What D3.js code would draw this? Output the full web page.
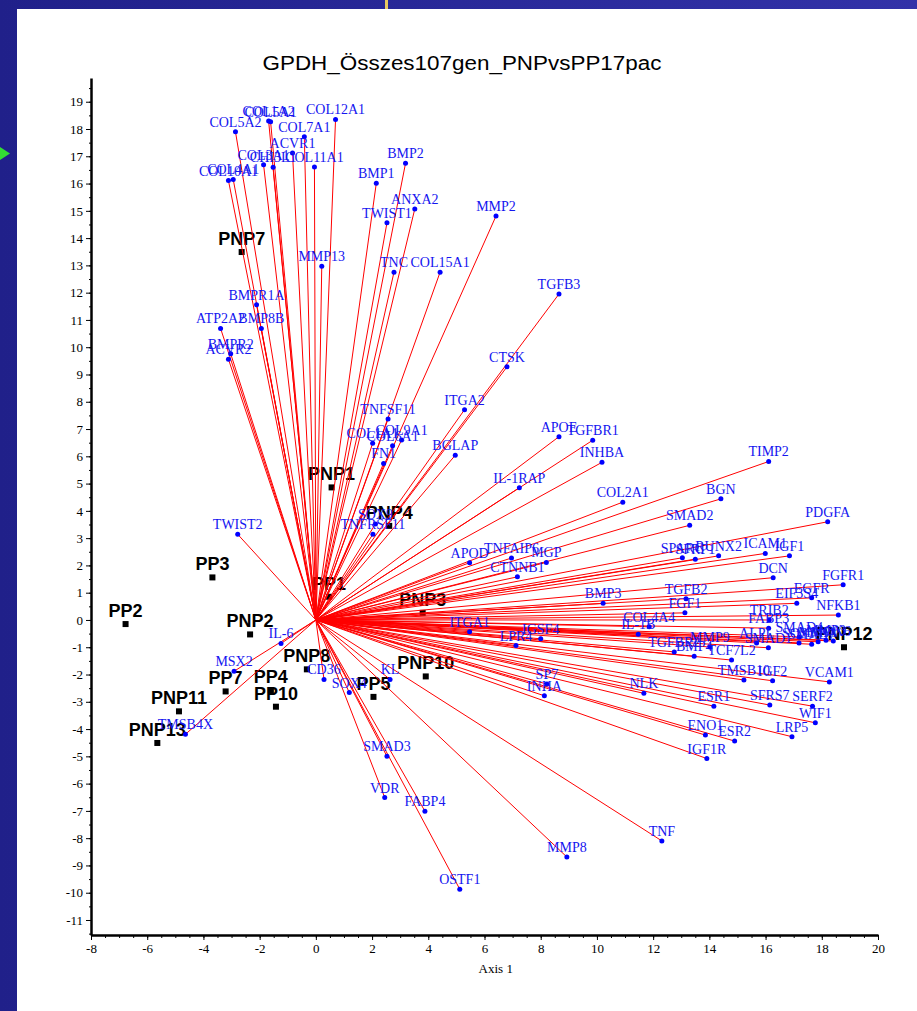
<!DOCTYPE html>
<html>
<head>
<meta charset="utf-8">
<script src="https://cdn.jsdelivr.net/npm/d3@7"></script>
<style>
  body { margin: 0; background: #fff; }
  svg { display: block; }
</style>
</head>
<body>
<svg id="chart" width="917" height="1011"></svg>
<script>
// ── Data ──────────────────────────────────────────────────────────────────
const title = "GPDH_Összes107gen_PNPvsPP17pac";
const xTicks = d3.range(-8, 21, 2);
const yTicks = d3.range(-11, 20, 1);

const genes = [
  "COL12A1", "COL5A2", "COL1A2", "COL5A1", "COL7A1", "ACVR1", "COL3A1", "CHI3L1", "COL11A1", "COL10A1",
  "COL4A1", "BMP2", "BMP1", "ANXA2", "TWIST1", "MMP13", "TNC", "COL15A1", "MMP2", "TGFB3",
  "BMPR1A", "ATP2A2", "BMP8B", "BMPR2", "ACVR2", "CTSK", "TNFSF11", "COL9A1", "COL1A1", "COL6A1",
  "FN1", "ITGA2", "BGLAP", "APOE", "TGFBR1", "INHBA", "IL-1RAP", "SOX9", "TNFRSF11", "APOD",
  "TNFAIP6", "MGP", "CTNNB1", "TIMP2", "COL2A1", "BGN", "SMAD2", "PDGFA", "SPARC", "SFRP1",
  "RUNX2", "ICAM1", "IGF1", "DCN", "FGFR1", "EGFR", "EIF3S4", "NFKB1", "BMP3", "TGFB2",
  "FGF1", "TRIB2", "FABP3", "SMAD4", "ALPL", "SMAD1", "SOST", "SMAD7", "MMP1", "MMP3",
  "SOX6", "COL4A4", "IL-1B", "TGFBR2", "BMP4", "MMP9", "TCF7L2", "TMSB10", "IGF2", "VCAM1",
  "NLK", "ESR1", "SFRS7", "SERF2", "WIF1", "LRP5", "ENO1", "ESR2", "IGF1R", "ITGA1",
  "LPR4", "IGSF4", "SP7", "INHA", "CD36", "SOX4", "KL", "SMAD3", "VDR", "FABP4",
  "OSTF1", "MMP8", "TNF", "IL-6", "MSX2", "TMSB4X", "TWIST2"
];
const geneX = [
  0.70, -2.86, -1.68, -1.61, -0.41, -0.83, -1.86, -1.52, -0.05, -3.11,
  -2.94, 3.19, 2.15, 3.52, 2.53, 0.21, 2.78, 4.42, 6.41, 8.65,
  -2.11, -3.39, -1.94, -3.03, -3.11, 6.80, 2.57, 3.05, 2.02, 2.73,
  2.41, 5.29, 4.96, 8.65, 9.85, 10.18, 7.24, 2.12, 2.03, 5.47,
  6.96, 8.20, 7.17, 16.11, 10.92, 14.41, 13.30, 18.21, 13.04, 13.50,
  14.33, 15.99, 16.85, 16.27, 18.76, 17.64, 17.11, 18.59, 10.22, 13.17,
  13.13, 16.13, 16.11, 17.20, 15.68, 16.10, 17.19, 17.64, 17.87, 18.15,
  18.41, 11.86, 11.47, 12.75, 13.46, 14.02, 14.79, 15.23, 16.25, 18.27,
  11.67, 14.16, 16.15, 17.67, 17.77, 16.94, 13.86, 14.90, 13.91, 5.47,
  7.12, 8.00, 8.22, 8.13, 0.29, 1.19, 2.64, 2.53, 2.45, 3.88,
  5.12, 8.93, 12.31, -1.24, -2.91, -4.64, -2.78
];
const geneY = [
  18.35, 17.90, 18.29, 18.27, 17.72, 17.12, 16.69, 16.60, 16.61, 16.11,
  16.15, 16.74, 16.01, 15.07, 14.56, 12.97, 12.75, 12.75, 14.81, 11.95,
  11.56, 10.69, 10.69, 9.76, 9.56, 9.28, 7.37, 6.60, 6.48, 6.39,
  5.74, 7.71, 6.04, 6.72, 6.59, 5.78, 4.85, 3.52, 3.14, 2.10,
  2.27, 2.11, 1.58, 5.81, 4.32, 4.44, 3.47, 3.60, 2.28, 2.23,
  2.35, 2.44, 2.35, 1.55, 1.29, 0.81, 0.61, 0.18, 0.61, 0.78,
  0.26, 0.00, -0.30, -0.62, -0.84, -1.02, -0.84, -0.89, -0.80, -0.74,
  -0.77, -0.25, -0.52, -1.17, -1.33, -0.99, -1.47, -2.20, -2.23, -2.27,
  -2.69, -3.16, -3.12, -3.16, -3.77, -4.28, -4.22, -4.44, -5.08, -0.43,
  -0.94, -0.69, -2.35, -2.78, -2.18, -2.66, -2.18, -5.00, -6.51, -7.01,
  -9.87, -8.69, -8.10, -0.86, -1.88, -4.19, 3.14
];

const samples = ["PNP7", "PNP1", "PNP4", "PP3", "PP2", "PNP2", "PP1", "PNP3", "PP7",
  "PP4", "PP10", "PNP11", "PNP13", "PNP8", "PP5", "PNP10", "PNP12"];
const sampleX = [-2.64, 0.56, 2.61, -3.68, -6.77, -2.34, 0.47, 3.80, -3.21,
  -1.60, -1.42, -4.87, -5.64, -0.32, 2.05, 3.91, 18.79];
const sampleY = [13.49, 4.86, 3.45, 1.56, -0.15, -0.53, 0.85, 0.26, -2.62,
  -2.57, -3.18, -3.35, -4.51, -1.81, -2.82, -2.07, -1.00];

// ── Frame (slide background) ──────────────────────────────────────────────
const svg = d3.select("#chart");
const defs = svg.append("defs");
const grad = defs.append("linearGradient").attr("id", "frameGrad")
  .attr("x1", 0).attr("x2", 1).attr("y1", 0).attr("y2", 0);
grad.append("stop").attr("offset", "0%").attr("stop-color", "#20208a");
grad.append("stop").attr("offset", "100%").attr("stop-color", "#3232a8");

svg.append("rect").attr("width", 917).attr("height", 1011).attr("fill", "url(#frameGrad)");
svg.append("rect").attr("x", 17).attr("y", 9).attr("width", 900).attr("height", 1002).attr("fill", "#fff");
svg.append("rect").attr("x", 385).attr("y", 0).attr("width", 3).attr("height", 9).attr("fill", "#e8c860");
svg.append("path").attr("d", "M0,147L10,153.5L0,160Z").attr("fill", "#33dd33");

// ── Scales & axes ─────────────────────────────────────────────────────────
const x = d3.scaleLinear().domain([-8, 20]).range([91, 878]);
const y = d3.scaleLinear().domain([-11.55, 19.87]).range([935, 78]);

svg.append("text")
  .attr("x", 462).attr("y", 70)
  .attr("text-anchor", "middle")
  .attr("textLength", 399).attr("lengthAdjust", "spacingAndGlyphs")
  .style("font-family", "'Liberation Sans', Arial, sans-serif")
  .style("font-size", "20px")
  .text(title);

const axisFont = (g) => g.selectAll("text")
  .style("font-family", "'Liberation Serif', 'Times New Roman', serif")
  .style("font-size", "13px")
  .attr("fill", "#000");

// plain hyphen for negatives, like the original software
const plain = (d) => String(d);

// minor ticks
svg.append("g").attr("transform", `translate(0,${y.range()[0]})`)
  .call(d3.axisBottom(x).tickValues(d3.range(-7.5, 20, 0.5)).tickSize(3).tickFormat(""))
  .call(g => g.select(".domain").remove());
svg.append("g").attr("transform", `translate(${x.range()[0]},0)`)
  .call(d3.axisLeft(y).tickValues(d3.range(-11.5, 19.6, 0.5)).tickSize(2).tickFormat(""))
  .call(g => g.select(".domain").remove());

svg.append("g").attr("transform", `translate(0,${y.range()[0]})`)
  .call(d3.axisBottom(x).tickValues(xTicks).tickFormat(plain).tickSize(5).tickPadding(4).tickSizeOuter(0))
  .call(axisFont)
  .call(g => g.select(".domain").attr("stroke-width", 2.5));

svg.append("g").attr("transform", `translate(${x.range()[0]},0)`)
  .call(d3.axisLeft(y).tickValues(yTicks).tickFormat(plain).tickSize(5).tickPadding(3).tickSizeOuter(0))
  .call(axisFont)
  .call(g => g.select(".domain").attr("stroke-width", 2.5));

svg.append("text")
  .attr("x", x(6.4)).attr("y", 973)
  .attr("text-anchor", "middle")
  .style("font-family", "'Liberation Serif', 'Times New Roman', serif")
  .style("font-size", "13px")
  .text("Axis 1");

// ── Samples (under the loading lines) ─────────────────────────────────────
const sampleG = svg.append("g");
samples.forEach((name, i) => {
  const sx = x(sampleX[i]), sy = y(sampleY[i]);
  sampleG.append("rect")
    .attr("x", sx - 3).attr("y", sy - 3).attr("width", 6).attr("height", 6)
    .attr("fill", "#000");
  sampleG.append("text")
    .attr("x", sx).attr("y", sy - 7)
    .attr("text-anchor", "middle")
    .style("font-family", "'Liberation Sans', Arial, sans-serif")
    .style("font-size", "18px")
    .style("font-weight", "bold")
    .attr("fill", "#000")
    .text(name);
});

// ── Gene loadings ─────────────────────────────────────────────────────────
const lineG = svg.append("g");
genes.forEach((name, i) => {
  lineG.append("line")
    .attr("x1", x(0)).attr("y1", y(0))
    .attr("x2", x(geneX[i])).attr("y2", y(geneY[i]))
    .attr("stroke", "#ff0000")
    .attr("stroke-width", 1);
});

const geneG = svg.append("g");
genes.forEach((name, i) => {
  const gx = x(geneX[i]), gy = y(geneY[i]);
  geneG.append("circle")
    .attr("cx", gx).attr("cy", gy).attr("r", 2.5)
    .attr("fill", "#0000ff");
  geneG.append("text")
    .attr("x", gx).attr("y", gy - 5)
    .attr("text-anchor", "middle")
    .style("font-family", "'Liberation Serif', 'Times New Roman', serif")
    .style("font-size", "14px")
    .attr("fill", "#1515f0")
    .text(name);
});
</script>
</body>
</html>
